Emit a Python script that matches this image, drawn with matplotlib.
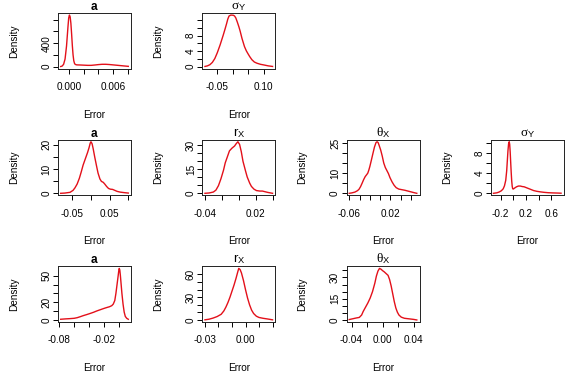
import matplotlib
matplotlib.use('Agg')
import matplotlib.pyplot as plt

plt.rcParams['font.family'] = ['Liberation Sans', 'DejaVu Sans']
plt.rcParams['mathtext.fontset'] = 'custom'
plt.rcParams['mathtext.rm'] = 'Liberation Sans'
plt.rcParams['mathtext.it'] = 'Liberation Serif'
plt.rcParams['mathtext.bf'] = 'Liberation Sans:bold'

# ---------------- data ----------------
# Row 1, panel "a"
a1_x = [-0.0012, -0.0010, -0.0008, -0.0006, -0.0004, -0.0002, -0.0001, 0.0000, 0.0001,
        0.0002, 0.0003, 0.0004, 0.0005, 0.0006, 0.0007, 0.0008, 0.0010, 0.0015, 0.0020,
        0.0025, 0.0030, 0.0035, 0.0040, 0.0045, 0.0050, 0.0055, 0.0060, 0.0065, 0.0070,
        0.0075, 0.0081]
a1_y = [2, 10, 40, 130, 350, 680, 830, 880, 850, 740, 560, 360, 200, 100, 55, 38, 30,
        28, 25, 22, 22, 28, 35, 40, 40, 36, 30, 24, 18, 12, 5]
# Row 1, panel sigma_Y
s1_x = [-0.090, -0.082, -0.074, -0.066, -0.058, -0.050, -0.041, -0.031, -0.025, -0.020,
        -0.016, -0.012, -0.006, 0.002, 0.006, 0.010, 0.015, 0.020, 0.024, 0.030, 0.038,
        0.044, 0.049, 0.055, 0.062, 0.070, 0.078, 0.090, 0.100, 0.115, 0.129]
s1_y = [0.05, 0.2, 0.5, 1.1, 2.1, 3.6, 5.6, 8.1, 9.7, 11.1, 12.3, 13.1, 13.35, 13.3,
        13.1, 12.6, 11.5, 10.3, 9.2, 7.3, 5.2, 4.1, 3.4, 2.6, 1.8, 1.2, 0.9, 0.6, 0.45,
        0.2, 0.05]

# Row 2
a2_x = [-0.081, -0.070, -0.056, -0.048, -0.043, -0.037, -0.031, -0.026, -0.021, -0.015,
        -0.009, -0.005, -0.002, 0.000, 0.003, 0.006, 0.010, 0.015, 0.019, 0.024, 0.028,
        0.033, 0.037, 0.042, 0.047, 0.052, 0.058, 0.064, 0.070, 0.078, 0.088, 0.100]
a2_y = [0.0, 0.1, 0.4, 1.2, 2.2, 3.8, 6.2, 8.8, 11.6, 14.2, 16.8, 18.8, 20.6, 21.2, 20.4,
        18.3, 15.0, 11.2, 8.3, 5.9, 4.9, 4.5, 3.8, 2.8, 2.0, 1.7, 1.6, 1.2, 0.8, 0.5,
        0.3, 0.1]
r2_x = [-0.040, -0.035, -0.030, -0.027, -0.024, -0.021, -0.018, -0.016, -0.013, -0.011,
        -0.008, -0.005, -0.003, -0.001, 0.001, 0.003, 0.005, 0.008, 0.010, 0.013, 0.015,
        0.018, 0.021, 0.025, 0.028, 0.031, 0.034, 0.037, 0.040]
r2_y = [0.0, 0.2, 0.8, 2.0, 4.8, 9.2, 14.5, 19.0, 23.5, 26.5, 28.2, 29.5, 31.0, 32.2,
        30.5, 26.0, 20.0, 14.0, 10.2, 6.3, 4.3, 2.6, 1.7, 1.4, 1.4, 1.0, 0.6, 0.3, 0.0]
t2_x = [-0.060, -0.055, -0.049, -0.044, -0.041, -0.038, -0.035, -0.032, -0.029, -0.026,
        -0.024, -0.022, -0.020, -0.017, -0.014, -0.011, -0.008, -0.006, -0.004, -0.002,
        0.001, 0.004, 0.007, 0.010, 0.013, 0.016, 0.019, 0.023, 0.027, 0.031, 0.036,
        0.042, 0.048, 0.054, 0.060, 0.066, 0.071]
t2_y = [0.0, 0.2, 0.6, 1.3, 2.0, 3.3, 5.0, 6.8, 8.3, 9.3, 10.0, 11.5, 13.3, 16.5, 19.8,
        23.0, 25.2, 25.6, 25.2, 23.8, 21.5, 18.5, 15.0, 12.8, 11.3, 9.8, 7.8, 5.7, 4.0,
        2.8, 2.1, 1.8, 1.5, 1.1, 0.7, 0.3, 0.0]
s2_x = [-0.314, -0.260, -0.226, -0.190, -0.160, -0.140, -0.120, -0.105, -0.095, -0.085,
        -0.075, -0.065, -0.058, -0.050, -0.042, -0.034, -0.026, -0.018, -0.010, 0.000,
        0.020, 0.050, 0.080, 0.110, 0.140, 0.170, 0.200, 0.240, 0.280, 0.320, 0.370,
        0.420, 0.480, 0.550, 0.620, 0.700, 0.753]
s2_y = [0.0, 0.1, 0.25, 0.5, 0.9, 1.5, 2.6, 4.5, 6.5, 8.5, 9.9, 10.3, 9.8, 8.3, 6.2,
        4.2, 2.5, 1.4, 0.9, 0.85, 1.05, 1.3, 1.45, 1.45, 1.35, 1.3, 1.15, 0.95, 0.75,
        0.55, 0.4, 0.3, 0.2, 0.12, 0.08, 0.05, 0.02]

# Row 3
a3_x = [-0.078, -0.072, -0.066, -0.060, -0.056, -0.052, -0.048, -0.043, -0.038, -0.034,
        -0.030, -0.025, -0.021, -0.017, -0.013, -0.010, -0.008, -0.006, -0.0045, -0.003,
        -0.0015, -0.0005, 0.0000, 0.0007, 0.0015, 0.0025, 0.0035, 0.005, 0.0065, 0.008,
        0.010, 0.012]
a3_y = [0.8, 1.2, 1.5, 1.9, 2.6, 3.7, 4.9, 6.2, 7.6, 8.8, 10.2, 11.7, 12.9, 14.0, 15.0,
        16.2, 18.0, 22.0, 30.0, 40.0, 50.0, 57.0, 58.4, 56.5, 50.0, 40.0, 30.0, 18.0,
        9.0, 4.0, 1.8, 0.8]
r3_x = [-0.030, -0.027, -0.024, -0.021, -0.018, -0.016, -0.0145, -0.013, -0.0115,
        -0.010, -0.0085, -0.007, -0.0058, -0.005, -0.004, -0.003, -0.0015, 0.000,
        0.0015, 0.003, 0.0045, 0.006, 0.008, 0.010, 0.013, 0.016, 0.020]
r3_y = [0.2, 1.0, 2.5, 4.5, 7.5, 12.0, 17.0, 23.0, 30.0, 38.0, 46.0, 55.0, 63.0, 68.0,
        66.5, 62.0, 52.0, 40.0, 29.0, 20.0, 13.0, 8.5, 5.0, 3.3, 2.2, 1.4, 0.2]
t3_x = [-0.043, -0.038, -0.034, -0.030, -0.027, -0.025, -0.022, -0.019, -0.016, -0.013,
        -0.010, -0.008, -0.006, -0.004, -0.002, 0.000, 0.002, 0.005, 0.007, 0.009, 0.011,
        0.013, 0.015, 0.017, 0.019, 0.021, 0.024, 0.028, 0.034, 0.040, 0.044]
t3_y = [0.3, 0.9, 1.4, 1.8, 3.5, 6.0, 9.0, 12.0, 15.5, 20.0, 26.0, 31.0, 34.5, 36.4,
        35.8, 34.8, 34.0, 32.5, 31.5, 28.5, 24.0, 18.5, 13.0, 8.5, 5.5, 3.5, 2.0, 1.2,
        0.8, 0.4, 0.0]

# ticks and the labels that are printed
a1_xt = [0.000, 0.002, 0.004, 0.006, 0.008]; a1_xl = ['0.000', '', '', '0.006', '']
a1_yt = [0, 200, 400, 600, 800];            a1_yl = ['0', '', '400', '', '']
s1_xt = [-0.05, 0.00, 0.05, 0.10];          s1_xl = ['-0.05', '', '', '0.10']
s1_yt = [0, 2, 4, 6, 8, 10, 12];            s1_yl = ['0', '', '4', '', '8', '', '']
a2_xt = [-0.05, 0.00, 0.05, 0.10];          a2_xl = ['-0.05', '', '0.05', '']
a2_yt = [0, 5, 10, 15, 20];                 a2_yl = ['0', '', '10', '', '20']
r2_xt = [-0.04, -0.02, 0.00, 0.02, 0.04];   r2_xl = ['-0.04', '', '', '0.02', '']
r2_yt = [0, 5, 10, 15, 20, 25, 30];         r2_yl = ['0', '', '', '15', '', '', '30']
t2_xt = [-0.06, -0.04, -0.02, 0.00, 0.02, 0.04, 0.06]
t2_xl = ['-0.06', '', '', '', '0.02', '', '']
t2_yt = [0, 5, 10, 15, 20, 25];             t2_yl = ['0', '', '10', '', '', '25']
s2_xt = [-0.2, 0.0, 0.2, 0.4, 0.6];         s2_xl = ['-0.2', '', '0.2', '', '0.6']
s2_yt = [0, 2, 4, 6, 8, 10];                s2_yl = ['0', '', '4', '', '8', '']
a3_xt = [-0.08, -0.06, -0.04, -0.02, 0.00]; a3_xl = ['-0.08', '', '', '-0.02', '']
a3_yt = [0, 10, 20, 30, 40, 50];            a3_yl = ['0', '', '20', '', '', '50']
r3_xt = [-0.03, -0.02, -0.01, 0.00, 0.01, 0.02]
r3_xl = ['-0.03', '', '', '0.00', '', '']
r3_yt = [0, 10, 20, 30, 40, 50, 60];        r3_yl = ['0', '', '', '30', '', '', '60']
t3_xt = [-0.04, -0.02, 0.00, 0.02, 0.04];   t3_xl = ['-0.04', '', '0.00', '', '0.04']
t3_yt = [0, 5, 10, 15, 20, 25, 30, 35];     t3_yl = ['0', '', '', '15', '', '', '30', '']

titles = {
    'a': r'$\mathbf{a}$',
    's': r'$\sigma_{\mathrm{Y}}$',
    'r': r'$\mathrm{r}_{\mathrm{X}}$',
    't': r'$\theta_{\mathrm{X}}$',
}

panels = [
    (0, 0, 'a', a1_x, a1_y, a1_xt, a1_xl, a1_yt, a1_yl),
    (0, 1, 's', s1_x, s1_y, s1_xt, s1_xl, s1_yt, s1_yl),
    (1, 0, 'a', a2_x, a2_y, a2_xt, a2_xl, a2_yt, a2_yl),
    (1, 1, 'r', r2_x, r2_y, r2_xt, r2_xl, r2_yt, r2_yl),
    (1, 2, 't', t2_x, t2_y, t2_xt, t2_xl, t2_yt, t2_yl),
    (1, 3, 's', s2_x, s2_y, s2_xt, s2_xl, s2_yt, s2_yl),
    (2, 0, 'a', a3_x, a3_y, a3_xt, a3_xl, a3_yt, a3_yl),
    (2, 1, 'r', r3_x, r3_y, r3_xt, r3_xl, r3_yt, r3_yl),
    (2, 2, 't', t3_x, t3_y, t3_xt, t3_xl, t3_yt, t3_yl),
]

W, H = 577, 380
fig = plt.figure(figsize=(W / 100, H / 100), dpi=100)
col_w = W / 4
row_h = H / 3
box_l, box_r = 58, 131
box_t, box_b = 13, 68.7
FS = 7.2

for r, c, key, xs, ys, xt, xl, yt, yl in panels:
    left = (c * col_w + box_l) / W
    bottom = 1 - (r * row_h + box_b) / H
    ax = fig.add_axes([left, bottom, (box_r - box_l) / W, (box_b - box_t) / H])
    ax.plot(xs, ys, color='#e3101a', lw=1.0)
    xmin, xmax = min(xs), max(xs)
    dx = (xmax - xmin) * 0.04
    ax.set_xlim(xmin - dx, xmax + dx)
    ymin, ymax = min(0, min(ys)), max(ys)
    dy = (ymax - ymin) * 0.04
    ax.set_ylim(ymin - dy, ymax + dy)
    ax.set_xticks(xt)
    ax.set_xticklabels(xl)
    ax.set_yticks(yt)
    ax.set_yticklabels(yl, rotation=90, va='center')
    ax.tick_params(axis='both', direction='out', length=3.6, width=0.7,
                   labelsize=FS, color='black')
    ax.tick_params(axis='x', pad=6.0)
    ax.tick_params(axis='y', pad=1.0)
    for sp in ax.spines.values():
        sp.set_linewidth(0.7)
        sp.set_color('#222222')
    fs_t = 8.5 if key == 'a' else 9.5
    ax.set_title(titles[key], fontsize=fs_t, pad=1.0)
    ax.text(0.5, -46 / (box_b - box_t), 'Error', transform=ax.transAxes,
            ha='center', va='center', fontsize=FS)
    ax.text(-44 / (box_r - box_l), 0.5, 'Density', transform=ax.transAxes,
            ha='center', va='center', rotation=90, fontsize=FS)

fig.savefig('out.png', dpi=100, facecolor='white')
